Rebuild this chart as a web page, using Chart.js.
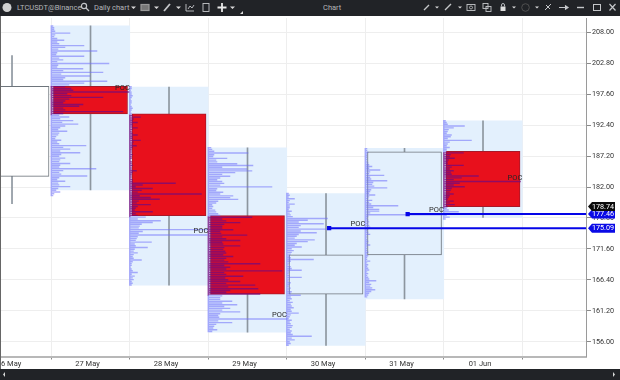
<!DOCTYPE html>
<html><head><meta charset="utf-8">
<script src="https://cdn.jsdelivr.net/npm/chart.js@4"></script>
<style>
html,body{margin:0;padding:0;background:#fff;overflow:hidden}
#wrap{position:relative;width:620px;height:380px;overflow:hidden;font-family:Roboto,sans-serif}
.bar{position:absolute;left:0;width:620px;background:#212327}
#top{top:0;height:16px}#bot{top:369px;height:11px}
.t{position:absolute;top:3px;font-size:7.5px;line-height:10px;color:#b4b6b9;white-space:nowrap}
#can{position:absolute;left:-4px;top:14px;width:624px;height:355px;filter:blur(.3px)}
#edge{position:absolute;left:0;top:16px;width:1px;height:353px;background:#666}
svg{position:absolute;left:0;top:0}
</style></head><body>
<div id="wrap">
<div id="can"><canvas id="c" width="624" height="355"></canvas></div>
<div id="edge"></div>
<div id="top" class="bar"></div><div id="bot" class="bar"></div>
<div class="t" style="left:17px">LTCUSDT@Binance</div>
<div class="t" style="left:94px">Daily chart</div>
<div class="t" style="left:323px">Chart</div>
<svg width="620" height="380" fill="none" stroke="#c4c6c9" stroke-width="1.2">
<circle cx="7" cy="7.5" r="4.5" fill="#d0d0d0" stroke="none"/>
<circle cx="84" cy="6" r="2.6"/><path d="M86 8l3 3"/>
<rect x="141" y="4.5" width="8" height="6" fill="#777" stroke="#999"/>
<path d="M164 11l6-7" stroke-width="1.8"/>
<path d="M186 4v7h8M188 9l2-3 2 2 2-3" stroke-width=".9"/>
<rect x="203" y="3.5" width="6" height="8" stroke-width=".9"/>
<path d="M222 3v9M217.5 7.5h9" stroke="#e8e8e8" stroke-width="1.8"/>
<path d="M240 14l3-3v3z" fill="#ddd" stroke="none"/>
<g fill="#d8d8d8" stroke="none">
<path d="M131 6.5h5l-2.5 2.5zM154 6.5h5l-2.5 2.5zM176 6.5h5l-2.5 2.5zM230 6.5h5l-2.5 2.5zM435 6.5h4l-2 2zM458 6.5h4l-2 2zM512 6.5h4l-2 2zM535 6.5h4l-2 2z"/>
<path d="M5 372l-2 2.5 2 2.5zM613 372l2 2.5-2 2.5z"/>
</g>
<path d="M424 10l5-5M445 10l6-6" stroke-width="1.4"/>
<rect x="467" y="4.5" width="8" height="6" stroke-width=".9"/><circle cx="471" cy="7.5" r="1.5" stroke-width=".8"/>
<rect x="483" y="3.5" width="5" height="5" stroke-width=".9"/><rect x="486" y="6.5" width="5" height="5" stroke-width=".9"/>
<rect x="500.5" y="6.5" width="5" height="4.5" fill="#ddd" stroke="none"/><path d="M501.5 6.5v-1.5a1.5 1.5 0 0 1 3 0v1.5" stroke-width=".9"/>
<circle cx="525.5" cy="7.5" r="3.8" stroke="#555" stroke-width=".9"/>
<path d="M545 10l6-6M546 5l4 4" stroke-width="1"/>
<path d="M559 7.5h9M565 5.5l3 2-3 2" fill="#ddd"/>
<path d="M577 7.5h7" stroke-width="1.4"/>
<rect x="593.5" y="4.5" width="7" height="6" stroke-width="1"/>
<path d="M609.5 4l6 6.5M615.5 4l-6 6.5"/>
</svg>
</div>
<script>
const dayLabels = ["26 May","27 May","28 May","29 May","30 May","31 May","01 Jun"];
const days = [0,1,2,3,4,5,6];
const opens  = [183.8,198.9,194.3,177.2,164.0,170.6,188.0];
const closes = [198.9,194.3,177.2,164.0,170.6,187.9,178.7];
const highs  = [204.1,209.1,198.8,188.6,180.9,188.5,193.1];
const lows   = [179.2,181.5,165.5,157.6,155.4,163.2,176.9];
const priceTicks = [208,202.8,197.6,192.4,187.2,182,176.8,171.6,166.4,161.2,156];
const pocPrices = [197.9,173.9,159.8,175.09,177.46,182.9];
const nakedPocDays = [4.04,5.04];
const nakedPocPrices = [175.09,177.46];
const tagPrices = [175.09,177.46,178.74];
const tagColors = ["#0a0ae6","#0a0ae6","#0c0c0c"];
const profileTops = [209.06,198.84,188.62,180.92,188.45,193.14];
const rowStep = 0.3;
const volMay27 = [2,3,3,4,19,4,3,6,13,6,8,33,14,7,46,6,5,33,8,12,6,58,7,6,32,12,52,10,39,14,12,56,33,18,14,20,22,78,16,20,52,18,14,12,32,28,12,14,72,12,8,18,9,22,11,27,14,9,7,16,8,7,5,4,10,6,8,35,12,19,9,29,10,8,14,9,8,19,9,8,45,12,8,10,36,8,6,14,7,8,19,7,5,9,3,2];
const volMay28 = [2,2,1,2,2,3,2,1,2,2,1,2,3,2,1,2,3,11,4,3,8,3,3,8,3,2,3,8,3,3,11,4,3,7,3,2,2,2,3,2,2,1,2,2,3,2,2,7,3,2,2,2,3,3,46,13,6,23,12,8,72,10,21,30,9,7,21,8,6,5,23,6,8,16,8,31,23,12,10,9,78,13,9,78,8,7,6,22,5,6,18,5,4,8,4,3,4,12,3,2,2,1,2,3,8,2,5,3,4,2,3,2];
const volMay29 = [3,4,6,40,6,5,19,8,9,29,45,14,39,44,27,14,22,12,9,14,16,12,64,9,8,15,12,25,22,30,10,8,4,5,4,7,8,10,12,44,14,18,32,16,14,14,25,12,13,39,14,18,32,14,15,32,16,15,17,18,15,25,18,16,20,52,16,22,18,74,16,18,35,17,20,32,18,47,20,50,22,18,52,14,12,12,24,14,29,16,22,14,32,12,10,11,79,10,24,8,6,5,9,4];
const volMay30 = [2,3,2,8,3,2,8,3,3,2,5,3,4,6,41,21,12,37,14,12,40,14,30,12,10,8,28,21,10,8,15,5,7,5,4,3,4,27,4,3,2,4,5,15,3,2,3,15,3,2,4,3,2,4,3,5,4,14,4,5,3,6,4,5,7,4,5,12,4,3,2,5,3,4,6,5,3,5,4,6,25,5,8,3,4,2];
const volMay31 = [2,2,3,2,2,2,2,2,3,4,7,4,15,5,4,19,5,6,22,8,7,9,22,6,5,4,10,4,3,7,4,6,33,8,14,14,5,78,3,2,3,4,3,4,5,3,2,3,5,2,2,2,3,2,5,2,2,2,3,2,3,2,2,5,2,3,2,3,4,2,3,2,3,4,11,4,6,5,7,10,6,4,3,2];
const volJun01 = [2,3,4,21,10,5,4,3,8,7,4,28,6,4,3,6,3,3,20,7,6,11,5,4,4,20,8,6,10,7,8,35,18,10,77,16,10,21,8,7,6,10,6,5,4,10,6,11,4,3,5,15,4,3,6,2];
const profiles = [volMay27,volMay28,volMay29,volMay30,volMay31,volJun01];
const fullDayVolume = 78.5;
const upFills = ["#ffffff","#e3f0fd","#e3f0fd","#e3f0fd","#e3f0fd","#e3f0fd","#e3f0fd"];

const dayKeys = days.slice(1);
const isDown = d => closes[d]<opens[d];
const spikeSets = profiles.map((vols,p)=>{
  const d = dayKeys[p], base = d-0.5, pts=[];
  const hi=Math.max(opens[d],closes[d]), lo=Math.min(opens[d],closes[d]);
  vols.forEach((v,k)=>{
    const price = profileTops[p]-k*rowStep;
    pts.push({x:base,y:price},{x:base+v/fullDayVolume,y:price},{x:base,y:price});
  });
  return {type:'line',data:pts,borderColor:'rgba(110,110,250,0.55)',borderWidth:1.4,pointRadius:0,tension:0.0001,fill:false,order:1,
    segment:{borderColor:c=>{
      const py=c.p0.parsed.y;
      return isDown(d)&&py<=hi&&py>=lo?'rgba(115,10,125,0.75)':'rgba(110,110,250,0.55)';
    }}};
});
const pocLines = nakedPocDays.map((d,i)=>({type:'line',
  data:[{x:d,y:nakedPocPrices[i]},{x:7.4,y:nakedPocPrices[i]}],
  borderColor:'#0505e8',borderWidth:2,pointRadius:[3,0],pointStyle:'rect',
  pointBackgroundColor:'#0505e8',pointBorderColor:'#0505e8',pointBorderWidth:0,order:0}));

const overlay = {id:'overlay',afterDraw(ch){
  const {ctx,scales:{x,y}}=ch;
  ctx.save();
  ctx.font='7.5px Roboto';ctx.fillStyle='#262626';ctx.textAlign='right';ctx.textBaseline='middle';
  pocPrices.forEach((p,i)=>ctx.fillText('POC',x.getPixelForValue(dayKeys[i]+0.5),y.getPixelForValue(p)-4));
  ctx.font='7.2px Roboto';ctx.textAlign='left';
  tagPrices.forEach((p,i)=>{
    const py=y.getPixelForValue(p),l=x.right+2;
    ctx.fillStyle=tagColors[i];ctx.beginPath();
    ctx.moveTo(l,py);ctx.lineTo(l+4,py-4.5);ctx.lineTo(l+27,py-4.5);ctx.lineTo(l+27,py+4.5);ctx.lineTo(l+4,py+4.5);ctx.closePath();ctx.fill();
    ctx.fillStyle='#fff';ctx.fillText(p.toFixed(2),l+4,py+.5);
  });
  ctx.restore();
}};

new Chart(document.getElementById('c'),{
  type:'bar',
  plugins:[overlay],
  data:{datasets:[
    ...pocLines,
    ...spikeSets,
    {label:'body',data:days.map((d,i)=>({x:d,y:[opens[i],closes[i]]})),barThickness:74,grouped:false,
     backgroundColor:days.map(i=>isDown(i)?'#e8101c':upFills[i]),
     borderColor:days.map(i=>isDown(i)?'#a81828':'#6e757c'),
     borderWidth:1,borderSkipped:false,order:2},
    {label:'wick',data:days.map((d,i)=>({x:d,y:[lows[i],highs[i]]})),barThickness:1,grouped:false,
     backgroundColor:'#8d969f',borderWidth:0,order:3},
    {label:'profile',data:dayKeys.map(d=>({x:d,y:[highs[d],lows[d]]})),barThickness:78.5,grouped:false,
     backgroundColor:'#e3f0fd',borderWidth:0,order:4}
  ]},
  options:{
    responsive:false,animation:false,
    layout:{padding:0},
    plugins:{legend:{display:false},tooltip:{enabled:false}},
    scales:{
      x:{type:'linear',offset:false,min:-0.153,max:7.312,position:'bottom',
        afterBuildTicks:s=>{s.ticks=days.map(v=>({value:v}))},
        afterFit:s=>{s.height=12.5;s.paddingLeft=0;s.paddingRight=0},
        grid:{color:'#eeeeee',tickColor:'#8a8a8a',tickLength:3,lineWidth:1},
        border:{color:'#b8b8b8',width:2},
        ticks:{autoSkip:false,maxRotation:0,minRotation:0,padding:0,labelOffset:-3,color:'#333',font:{family:'Roboto',size:7.5},
          callback:v=>dayLabels[v]}
      },
      y:{type:'linear',position:'right',min:153.53,max:210.395,
        afterBuildTicks:s=>{s.ticks=priceTicks.map(v=>({value:v}))},
        afterFit:s=>{s.width=34;s.paddingTop=0;s.paddingBottom=0},
        grid:{color:'#eeeeee',tickColor:'#8a8a8a',tickLength:5,lineWidth:1},
        border:{color:'#9a9a9a',width:1},
        ticks:{padding:1,color:'#333',font:{family:'Roboto',size:7.2},callback:v=>Number(v).toFixed(2)}
      }
    }
  }
});
</script>
</body></html>
